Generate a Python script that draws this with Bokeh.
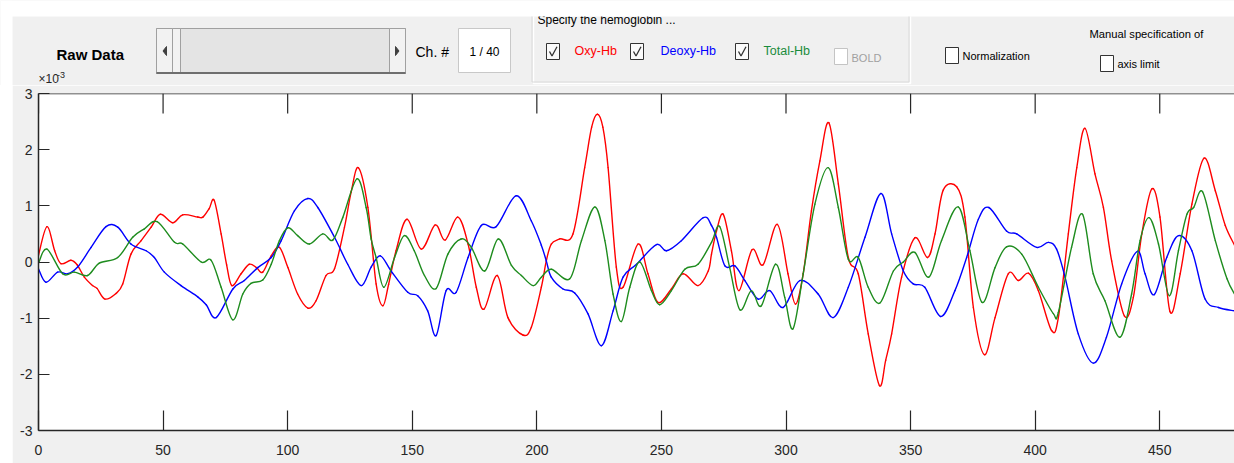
from bokeh.plotting import figure
from bokeh.layouts import column, row
from bokeh.models import Range1d, FixedTicker, Spacer, Span
from bokeh.core.properties import value
from bokeh.embed import file_html
from bokeh.resources import INLINE

# ---------------- data (axis values are x 10^-3) ----------------
OXY_X = [0, 3.4, 6.5, 9, 13, 15.5, 18.4, 21.7, 23.5, 26.7, 31.1, 33.8, 37.1, 41.2, 45.2, 48.9,
         53.9, 57.9, 63.9, 66, 68.5, 70.5, 73.3, 75.5, 77.6, 81.3, 84.6, 87.5, 90, 93.4, 96.7,
         100.1, 104, 108.1, 111.4, 115.4, 118.8, 122.8, 125.5, 128.4, 132.2, 135.5, 138.2, 140.5,
         143.5, 147.9, 153.6, 159.2, 163.2, 168.3, 172.4, 175.7, 178.8, 184.1, 188.4, 194.4, 197.8,
         201.8, 203.8, 205.8, 209.2, 214.5, 219.2, 222, 224.3, 226.5, 228.6, 231.9, 234.6, 240.6,
         244.6, 248.6, 254, 258.7, 264.7, 268.8, 270.1, 272.1, 274.8, 278.1, 281.1, 286.4, 290.8,
         296.5, 300.8, 303.8, 306.9, 310.2, 313.6, 317.2, 321, 325, 329, 333, 337.5, 340, 342.4,
         346.4, 351.7, 356.8, 359.8, 363.1, 368.5, 371.8, 375.2, 379.6, 383.9, 389.2, 393.3, 397.3,
         401.3, 406.6, 409.3, 413.3, 416.7, 420, 424, 427.4, 430.7, 435.8, 439.4, 442.8, 446.8,
         450.1, 454.1, 458.2, 462.9, 467.8, 472.3, 476.3, 480]
OXY_Y = [0.12, 0.63, 0.2, -0.03, 0.03, -0.05, -0.27, -0.42, -0.47, -0.66, -0.56, -0.39, 0.14, 0.38,
         0.62, 0.85, 0.70, 0.84, 0.80, 0.80, 0.95, 1.10, 0.5, -0.05, -0.42, -0.21, -0.04, -0.1, -0.18,
         0.11, 0.26, -0.10, -0.57, -0.82, -0.69, -0.24, -0.12, 0.62, 1.25, 1.68, 0.97, -0.39, -0.78,
         -0.4, 0.20, 0.76, 0.23, 0.66, 0.39, 0.80, 0.32, -0.45, -0.84, -0.24, -0.99, -1.30, -1.16,
         -0.45, 0.02, 0.32, 0.41, 0.50, 1.68, 2.4, 2.63, 2.4, 1.68, -0.09, -0.45, 0.32, -0.21, -0.72,
         -0.48, -0.21, -0.42, -0.16, 0.14, 0.55, 0.85, 0.20, -0.51, 0.22, -0.05, 0.67, -0.21, -0.75,
         -0.21, 0.91, 1.80, 2.48, 1.39, 0.08, -0.21, -1.28, -2.2, -1.75, -1.28, -0.27, 0.43, 0.08,
         0.50, 1.28, 1.34, 0.80, -0.81, -1.65, -0.99, -0.21, -0.33, -0.20, -0.51, -1.22, -0.99, 0.50,
         1.68, 2.38, 1.57, 0.97, 0.02, -0.96, -0.63, 0.50, 1.30, 0.80, -0.88, -0.21, 1.03, 1.85, 1.27,
         0.65, 0.30]

DEOXY_X = [0, 3, 7.7, 11.7, 15.7, 21.1, 27.1, 31.8, 37.1, 43.2, 46.5, 50.5, 57.2, 63.9, 67.3, 71.3,
           78, 82.6, 88, 93.4, 97.4, 102.7, 108.1, 112.1, 118.8, 124.1, 129.5, 133.5, 137.2, 141.5,
           148.2, 152.2, 156.2, 159.6, 163.6, 167.6, 172.4, 177.7, 183.7, 191.7, 197.8, 201.8, 203.8,
           205.8, 210.5, 215.2, 220.5, 225.9, 230.6, 234.6, 240, 248, 252, 258, 266.8, 270.1, 272.1,
           275.5, 279.5, 283.5, 288.8, 293.5, 298.8, 305.5, 312.9, 318.9, 325, 331.7, 338.1, 342.4,
           347.1, 351.1, 355.7, 362.1, 367.8, 372.5, 377.2, 381.4, 388.5, 392.6, 400.6, 405.3, 408.6,
           412, 417.3, 423.3, 428.6, 434.7, 441, 444.1, 447.8, 452.8, 457.5, 462.9, 468.2, 473.6, 480]
DEOXY_Y = [-0.12, -0.36, -0.18, -0.21, -0.09, 0.26, 0.63, 0.62, 0.32, 0.20, 0.08, -0.18, -0.42, -0.62,
           -0.76, -0.99, -0.48, -0.33, -0.10, 0.08, 0.38, 0.91, 1.13, 0.97, 0.44, -0.04, -0.42, -0.09,
           0.11, -0.16, -0.54, -0.60, -0.87, -1.31, -0.51, -0.54, 0.08, 0.65, 0.63, 1.18, 0.73, 0.30,
           0.02, -0.27, -0.48, -0.55, -0.92, -1.49, -0.87, -0.27, -0.04, 0.31, 0.20, 0.38, 0.79, 0.65,
           0.44, -0.07, -0.07, -0.33, -0.66, -0.51, -0.81, -0.33, -0.57, -0.99, -0.45, 0.44, 1.22, 0.50,
           -0.16, -0.39, -0.45, -0.97, -0.51, 0.08, 0.76, 0.97, 0.55, 0.50, 0.26, 0.35, 0.23, -0.27,
           -1.28, -1.80, -1.34, -0.39, 0.19, -0.21, -0.58, 0.08, 0.47, 0.20, -0.66, -0.81, -0.87]

TOTAL_X = [0, 3.4, 9.7, 14.4, 19.7, 24.4, 31.8, 37.8, 42.5, 47.6, 54.6, 57.9, 65.3, 69.3, 73.3, 78,
           82, 85.3, 90, 93.4, 96.7, 100.1, 104, 108.7, 114.1, 118.1, 122.1, 127.8, 131.5, 133.5,
           135.5, 138.6, 142.9, 146.8, 150.8, 154.9, 159.6, 164.3, 169.6, 173.7, 179.1, 184.5, 189.8,
           193.8, 198.5, 201.8, 205.8, 213.2, 217.9, 223.3, 227.3, 230.6, 233.9, 237.3, 241.3, 246,
           249.3, 254, 259.4, 264.7, 270.1, 273.4, 277.4, 281.5, 286.1, 290.1, 295.8, 299.5, 302.8,
           306.9, 311.6, 316.9, 321, 325, 329, 333, 337.7, 343.1, 347.1, 351.7, 357.3, 362.4, 369.1,
           373.8, 378.7, 383.9, 388.5, 394.6, 401.3, 407.3, 409.3, 414.6, 419, 423.3, 428, 434, 438.7,
           442.1, 445.7, 449.5, 453.8, 457.5, 460.9, 463.6, 467.2, 472.3, 477, 480]
TOTAL_Y = [-0.02, 0.23, -0.21, -0.18, -0.24, -0.02, 0.08, 0.44, 0.59, 0.72, 0.35, 0.32, 0.0, 0.03,
           -0.45, -1.03, -0.57, -0.38, -0.32, -0.04, 0.38, 0.61, 0.47, 0.32, 0.50, 0.39, 0.79, 1.48,
           0.97, 0.41, 0.08, -0.45, 0.08, 0.47, 0.20, -0.24, -0.47, 0.14, 0.41, 0.26, -0.16, 0.41,
           -0.06, -0.24, -0.42, -0.27, -0.13, -0.30, 0.38, 0.98, 0.38, -0.57, -1.06, -0.45, 0.0, -0.51,
           -0.76, -0.51, -0.13, -0.04, 0.35, 0.63, -0.10, -0.85, -0.51, -0.78, -0.04, -0.63, -1.19,
           -0.21, 1.03, 1.68, 0.97, 0.05, 0.08, -0.45, -0.73, -0.16, 0.0, 0.17, -0.27, 0.38, 0.98, 0.20,
           -0.72, -0.10, 0.27, 0.14, -0.45, -0.92, -0.90, 0.26, 0.85, -0.21, -0.69, -1.34, -0.57, 0.38,
           0.79, 0.32, -0.60, 0.20, 0.85, 0.97, 1.25, 0.38, -0.30, -0.57]

X_TICKS = [0, 50, 100, 150, 200, 250, 300, 350, 400, 450]
Y_TICKS = [-3, -2, -1, 0, 1, 2, 3]
X_LIMITS = (0, 480)
Y_LIMITS = (-3, 3)
Y_MULTIPLIER = ("\u00d710", "-3")
SERIES_LABELS = ["Oxy-Hb", "Deoxy-Hb", "Total-Hb"]
CHANNEL_TEXT = "1 / 40"

# ---------------- style ----------------
FONT = "Liberation Sans"
GUI_BG = "#f0f0f0"
AXIS_COL = "#262626"
RED = "#ff0000"
BLUE = "#0000ff"
GREEN_LINE = "#1e8c1e"
GREEN_TXT = "#1a8c3c"

W = 1234
TOP_H = 85
CHART_H = 378
LEFT_PAD = 12
FRAME_H = 337

# ---------------- header (GUI controls) ----------------
hdr = figure(width=W, height=TOP_H, x_range=Range1d(0, W), y_range=Range1d(TOP_H, 0),
             x_axis_type=None, y_axis_type=None, output_backend="svg", toolbar_location=None,
             min_border=0, background_fill_color=GUI_BG, border_fill_color=GUI_BG,
             outline_line_color=None)


def label(x, y, s, size, color="#000000", bold=False, align="left", baseline="middle"):
    hdr.text(x=[x], y=[y], text=[s], text_font=value(FONT), text_font_size=f"{size}px",
             text_font_style="bold" if bold else "normal", text_color=color,
             text_align=align, text_baseline=baseline)


def box(l, r, t, b, fill, line, width=1.0):
    hdr.quad(left=[l], right=[r], top=[t], bottom=[b], fill_color=fill, line_color=line,
             line_width=width)


def checkbox(x0, y0, checked, border="#333333", fill="#fbfbfb", w=13, h=16):
    box(x0, x0 + w, y0, y0 + h, fill, border)
    if checked:
        hdr.line(x=[x0 + 3, x0 + 5.5, x0 + 10.5], y=[y0 + h * 0.5, y0 + h * 0.78, y0 + h * 0.2],
                 line_color="#333333", line_width=1.3)


# panel title (its upper half is hidden under the white band)
label(537, 19.5, "Specify the hemoglobin ...", 12, baseline="alphabetic")
# white band above the GUI and at its left
box(0, W, 0, 16, "#ffffff", None)
box(0, LEFT_PAD, 0, TOP_H, "#ffffff", None)

# etched panel border
hdr.line(x=[533, 533, 910, 910], y=[16, 83, 83, 16], line_color="#ffffff", line_width=1.5)
hdr.line(x=[531.5, 531.5, 908.5, 908.5], y=[16, 81.5, 81.5, 16], line_color="#dadada", line_width=1)

label(56, 54, "Raw Data", 15, bold=True)

# slider
box(156, 405, 28, 73, "#e4e4e4", "#a0a0a0")
box(156, 172, 28, 73, "#f2f2f2", "#a0a0a0")
box(172, 180, 28, 73, "#f2f2f2", "#a0a0a0")
box(389, 405, 28, 73, "#f2f2f2", "#a0a0a0")
hdr.line(x=[156, 405], y=[72.5, 72.5], line_color="#6e6e6e", line_width=2)
hdr.patch(x=[166, 166, 162.5], y=[46, 55, 50.5], color="#404040")
hdr.patch(x=[395, 395, 398.5], y=[46, 55, 50.5], color="#404040")

label(415, 51, "Ch. #", 14)
box(458, 510, 28, 72, "#ffffff", "#c8c8c8")
label(484, 51, CHANNEL_TEXT, 12, align="center")

checkbox(546, 43, True)
label(574, 50, SERIES_LABELS[0], 12.5, color=RED)
checkbox(630, 43, True)
label(660, 50, SERIES_LABELS[1], 12.5, color=BLUE)
checkbox(735, 43, True)
label(763, 50, SERIES_LABELS[2], 12.5, color=GREEN_TXT)
checkbox(834, 48, False, border="#c4c4c4", fill="#ffffff")
label(851, 57, "BOLD", 11, color="#a0a0a0")

checkbox(945, 47, False, fill="#ffffff")
label(962, 55, "Normalization", 11)
label(1089, 33, "Manual specification of", 11.2)
checkbox(1100, 55, False, fill="#ffffff")
label(1117, 63, "axis limit", 11)

# axis multiplier (x 10^-3)
label(38, 85, Y_MULTIPLIER[0], 12, color=AXIS_COL, baseline="bottom")
label(56.5, 77, Y_MULTIPLIER[1], 9, color=AXIS_COL, baseline="bottom")

# ---------------- chart ----------------
chart = figure(width=W - LEFT_PAD, height=CHART_H, x_range=Range1d(*X_LIMITS),
               y_range=Range1d(*Y_LIMITS), output_backend="svg", toolbar_location=None,
               min_border_left=26, min_border_right=0, min_border_top=8,
               min_border_bottom=CHART_H - 8 - FRAME_H, background_fill_color="#ffffff",
               border_fill_color=GUI_BG, outline_line_color=None)
chart.grid.visible = False


def style_axis(ax, ticks, tick_len, standoff):
    ax.ticker = FixedTicker(ticks=ticks)
    ax.major_label_overrides = {t: str(t) for t in ticks}
    ax.axis_line_color = AXIS_COL
    ax.axis_line_width = 1.5
    ax.major_tick_line_color = AXIS_COL
    ax.major_tick_line_width = 1.2
    ax.major_tick_in = tick_len
    ax.major_tick_out = 0
    ax.minor_tick_line_color = None
    ax.major_label_text_font = FONT
    ax.major_label_text_color = AXIS_COL
    ax.major_label_text_font_size = "14px"
    ax.major_label_standoff = standoff


style_axis(chart.xaxis[0], X_TICKS, 20, 14)
style_axis(chart.yaxis[0], Y_TICKS, 11, 6)

# mirrored box edge and tick marks along the top
chart.add_layout(Span(location=Y_LIMITS[1], dimension="width", line_color=AXIS_COL, line_width=1.5))
tick_len_data = 20 * (Y_LIMITS[1] - Y_LIMITS[0]) / FRAME_H
chart.segment(x0=X_TICKS, x1=X_TICKS, y0=[Y_LIMITS[1]] * len(X_TICKS),
              y1=[Y_LIMITS[1] - tick_len_data] * len(X_TICKS), line_color=AXIS_COL, line_width=1.2)


def smooth(xs, ys):
    """Catmull-Rom style cubic segments through the read points."""
    n = len(xs)
    d = {k: [] for k in ("x0", "y0", "x1", "y1", "cx0", "cy0", "cx1", "cy1")}
    for i in range(n - 1):
        xm, ym = (xs[i - 1], ys[i - 1]) if i > 0 else (xs[i], ys[i])
        xp, yp = (xs[i + 2], ys[i + 2]) if i + 2 < n else (xs[i + 1], ys[i + 1])
        d["x0"].append(xs[i]); d["y0"].append(ys[i])
        d["x1"].append(xs[i + 1]); d["y1"].append(ys[i + 1])
        d["cx0"].append(xs[i] + (xs[i + 1] - xm) / 6); d["cy0"].append(ys[i] + (ys[i + 1] - ym) / 6)
        d["cx1"].append(xs[i + 1] - (xp - xs[i]) / 6); d["cy1"].append(ys[i + 1] - (yp - ys[i]) / 6)
    return d


for xs, ys, col in ((OXY_X, OXY_Y, RED), (DEOXY_X, DEOXY_Y, BLUE), (TOTAL_X, TOTAL_Y, GREEN_LINE)):
    chart.bezier(source=smooth(xs, ys), x0="x0", y0="y0", x1="x1", y1="y1", cx0="cx0", cy0="cy0",
                 cx1="cx1", cy1="cy1", line_color=col, line_width=1.4, line_cap="round")

layout = column(hdr, row(Spacer(width=LEFT_PAD, height=CHART_H), chart))

open("out.html", "w").write(file_html(layout, INLINE))
